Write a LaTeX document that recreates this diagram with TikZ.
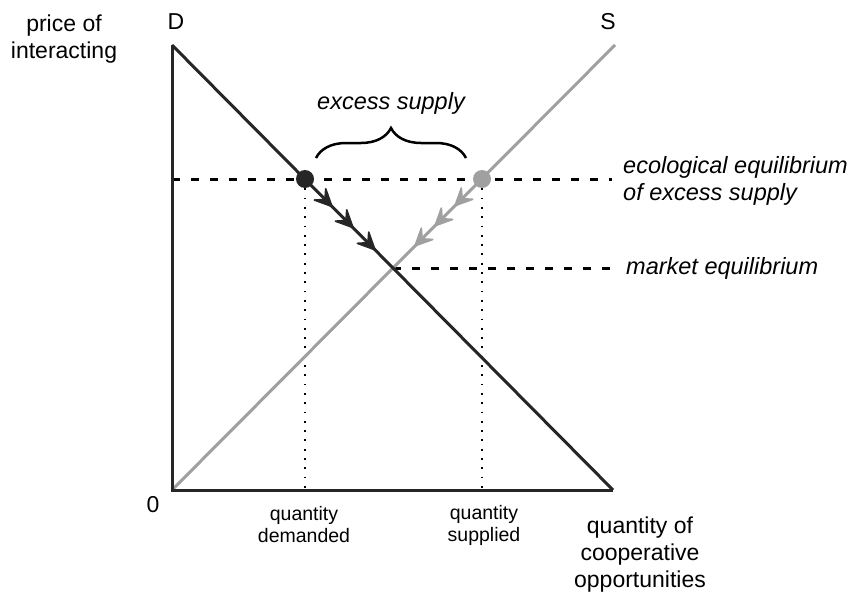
\documentclass[tikz,border=0pt]{standalone}
\usepackage{fontspec}
\setmainfont{Liberation Sans}
\usetikzlibrary{decorations.pathreplacing}
\definecolor{dk}{HTML}{262626}
\definecolor{gr}{HTML}{A0A0A0}
\tikzset{
  axis/.style={line width=3pt, draw=dk, line join=miter},
  dline/.style={line width=3pt, draw=dk},
  sline/.style={line width=3pt, draw=gr},
  dashedline/.style={line width=3pt, draw=black, dash pattern=on 8pt off 11pt},
  dottedline/.style={line width=1.8pt, draw=black, dash pattern=on 1.8pt off 7.5pt},
  chev/.pic={\filldraw[line join=round, line width=1.6pt] (0,0) -- (-17,8) -- (-10,0) -- (-17,-8) -- cycle;},
  big/.style={font=\fontsize{23}{27}\selectfont, align=center, inner sep=0pt},
  small/.style={font=\fontsize{19.5}{22}\selectfont, align=center, inner sep=0pt},
  bigit/.style={font=\fontsize{23.5}{27}\selectfont\itshape, align=left, inner sep=0pt},
}
\begin{document}
\begin{tikzpicture}[x=1pt,y=-1pt]
\useasboundingbox (0,0) rectangle (853,599);
\coordinate (O) at (172,490);
\coordinate (Ytop) at (172,45);
\coordinate (Xend) at (613,490);
\coordinate (Stop) at (615,45);
\coordinate (E) at (393,268);
\coordinate (Dd) at (305,179);
\coordinate (Sd) at (482,179);
\coordinate (Dfoot) at (305,490);
\coordinate (Sfoot) at (482,490);
\coordinate (L1l) at (172,179);
\coordinate (L1r) at (612,179);
\coordinate (L2r) at (612,268);
\coordinate (Bl) at (316,158);
\coordinate (Br) at (466,158);
% arrow head positions
\coordinate (da1) at (332,206.5);
\coordinate (da2) at (353,227.6);
\coordinate (da3) at (375,249.8);
\coordinate (sa1) at (455,205.7);
\coordinate (sa2) at (435,225.8);
\coordinate (sa3) at (415,245.9);

% dotted verticals
\draw[dottedline] (Dd) -- (Dfoot);
\draw[dottedline] (Sd) -- (Sfoot);
% dashed horizontals
\draw[dashedline] (L1l) -- (L1r);
\draw[dashedline] (E) -- (L2r);
% supply line
\draw[sline] (O) -- (Stop);
\foreach \p in {sa1,sa2,sa3}
  \pic[gr, rotate=-134.9] at (\p) {chev};
% demand line
\draw[dline] (Ytop) -- (Xend);
\foreach \p in {da1,da2,da3}
  \pic[dk, rotate=-45.3] at (\p) {chev};
% axes
\draw[axis] (Ytop) -- (O) -- (Xend);
% dots
\fill[dk] (Dd) circle (9pt);
\fill[gr] (Sd) circle (9pt);
% brace
\draw[line width=2.5pt, draw=black, decorate, decoration={brace, amplitude=30pt}] (Bl) -- (Br);

% labels
\node[big] (lD) at (176,22) {D};
\node[big] (lS) at (608,22) {S};
\node[big] (l0) at (153,505) {0};
\node[big] (lp) at (64,39) {price of\\interacting};
\node[bigit, align=center] (lx) at (391,103) {excess supply};
\node[bigit, anchor=west] (leco) at (623,181) {ecological equilibrium\\of excess supply};
\node[bigit, anchor=west] (lme) at (626,268) {market equilibrium};
\node[small] (lqd) at (304,525) {quantity\\demanded};
\node[small] (lqs) at (484,525) {quantity\\supplied};
\node[big] (lq) at (640,555) {quantity of\\cooperative\\opportunities};
\end{tikzpicture}
\end{document}
